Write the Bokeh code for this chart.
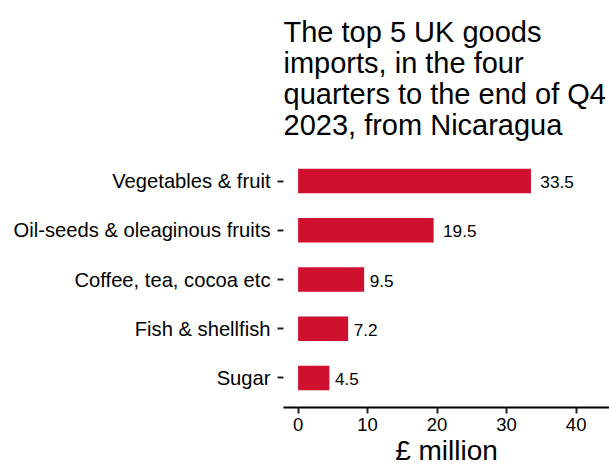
from bokeh.plotting import figure
from bokeh.models import FactorRange, Range1d, ColumnDataSource, FixedTicker
from bokeh.embed import file_html
from bokeh.resources import INLINE

categories = ["Vegetables & fruit", "Oil-seeds & oleaginous fruits",
              "Coffee, tea, cocoa etc", "Fish & shellfish", "Sugar"]
values = [33.5, 19.5, 9.5, 7.2, 4.5]
value_labels = ["33.5", "19.5", "9.5", "7.2", "4.5"]
x_ticks = [0, 10, 20, 30, 40]

title_text = "The top 5 UK goods\nimports, in the four\nquarters to the end of Q4\n2023, from Nicaragua"
x_label = "£ million"

FONT = "Liberation Sans"
BAR = "#CF102E"
VAL_FS = 17.2

# approximate label widths (Arial metrics) to emulate a hjust-style gap
def text_w(s, fs):
    return sum(0.278 if c == "." else 0.556 for c in s) * fs

offsets = [0.4 * text_w(s, VAL_FS) - 4 for s in value_labels]

src = ColumnDataSource(dict(cat=categories, val=values, lab=value_labels, off=offsets))

p = figure(width=609, height=470,
           y_range=FactorRange(factors=categories[::-1], range_padding=0.04),
           x_range=Range1d(-2.1, 44.8),
           output_backend="svg", toolbar_location=None,
           min_border_left=283, min_border_right=0,
           min_border_top=151, min_border_bottom=63)

p.hbar(y="cat", left=0, right="val", height=0.5, source=src,
       fill_color=BAR, line_color=None)

p.text(x="val", y="cat", text="lab", source=src, x_offset="off", y_offset=1,
       text_font={"value": FONT}, text_font_size=f"{VAL_FS}px",
       text_baseline="middle", text_align="left", text_color="#000000")

p.title.text = title_text
p.title.text_font = FONT
p.title.text_font_size = "29px"
p.title.text_font_style = "normal"
p.title.text_color = "#000000"
p.title.text_line_height = 0.965
p.title.align = "left"
p.title.standoff = 21

p.xgrid.visible = False
p.ygrid.visible = False
p.outline_line_color = None
p.background_fill_color = "white"
p.border_fill_color = "white"

xa = p.xaxis[0]
xa.ticker = FixedTicker(ticks=x_ticks)
xa.axis_label = x_label
xa.axis_label_text_font = FONT
xa.axis_label_text_font_size = "28px"
xa.axis_label_text_font_style = "normal"
xa.axis_label_text_color = "#000000"
xa.axis_label_standoff = 1
xa.axis_line_color = "#000000"
xa.axis_line_width = 2
xa.major_tick_line_color = "#222222"
xa.major_tick_line_width = 2
xa.major_tick_out = 6
xa.major_tick_in = 0
xa.minor_tick_line_color = None
xa.major_label_text_font = FONT
xa.major_label_text_font_size = "18.5px"
xa.major_label_text_color = "#000000"
xa.major_label_standoff = 4

ya = p.yaxis[0]
ya.axis_line_color = None
ya.major_tick_line_color = "#222222"
ya.major_tick_line_width = 2
ya.major_tick_out = 6
ya.major_tick_in = 0
ya.minor_tick_line_color = None
ya.major_label_text_font = FONT
ya.major_label_text_font_size = "20.2px"
ya.major_label_text_color = "#000000"
ya.major_label_standoff = 7

open("out.html", "w").write(file_html(p, INLINE))
